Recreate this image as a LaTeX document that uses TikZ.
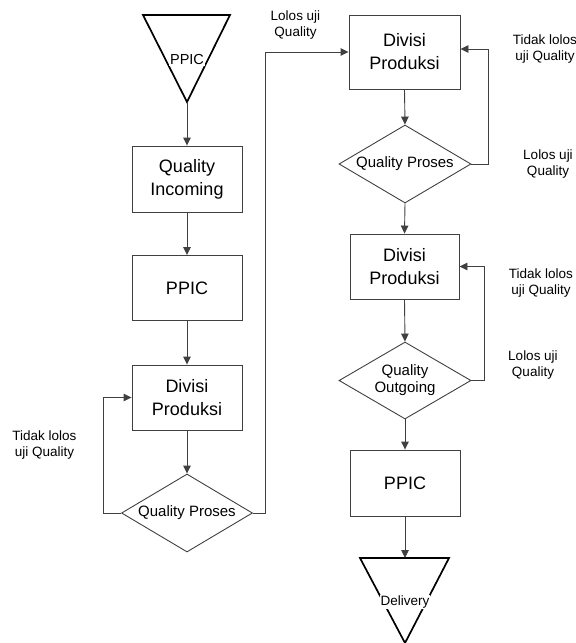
\documentclass[tikz,border=0pt]{standalone}
\usepackage{fontspec}
\setmainfont{Liberation Sans}
\usetikzlibrary{shapes.geometric,arrows.meta}
\begin{document}
\begin{tikzpicture}[x=1pt,y=-1pt,
  boxnode/.style={draw=black!75,line width=0.9pt,minimum width=110pt,minimum height=65pt,inner sep=0pt,align=center,font=\fontsize{18}{23}\selectfont},
  decision/.style={draw=black!75,line width=0.9pt,diamond,shape aspect=1.68,minimum width=131pt,minimum height=78pt,inner sep=0pt,align=center,font=\fontsize{15}{17}\selectfont},
  tri/.style={draw=black,line width=1.7pt,line join=miter},
  trilabel/.style={fill=white,inner sep=1pt,font=\fontsize{14.5}{16}\selectfont},
  note/.style={align=center,inner sep=0pt,font=\fontsize{13.5}{16}\selectfont},
  arr/.style={draw=black!75,line width=0.9pt,-{Triangle[length=8pt,width=7.5pt]}}]
\useasboundingbox (0,0) rectangle (576,643);
% top triangle
\coordinate (t1l) at (143,15);
\coordinate (t1r) at (230,15);
\coordinate (t1a) at (187,102);
\draw[tri] (t1l) -- (t1r) -- (t1a) -- cycle;
\node[trilabel] (t1txt) at (187,60) {PPIC};
% left column
\node[boxnode,minimum height=66pt] (qin) at (187,179) {Quality\\Incoming};
\node[boxnode] (ppic1) at (187,288) {PPIC};
\node[boxnode] (div1) at (187,397.5) {Divisi\\Produksi};
\node[decision] (dia1) at (187,513) {Quality Proses};
% right column
\node[boxnode,minimum width=111pt,minimum height=74pt] (div2) at (404.5,52) {Divisi\\Produksi};
\node[decision,minimum width=132pt] (dia2) at (405,164) {Quality Proses};
\node[boxnode,minimum width=109pt] (div3) at (404.5,266.5) {Divisi\\Produksi};
\node[decision,minimum width=132pt,minimum height=77pt] (dia3) at (405,380.5) {Quality\\Outgoing};
\node[boxnode,minimum height=66pt] (ppic2) at (405,483) {PPIC};
% bottom triangle
\coordinate (t2l) at (360,558);
\coordinate (t2top) at (405,558);
\coordinate (t2r) at (449,558);
\coordinate (t2a) at (405,643);
\draw[tri] (t2l) -- (t2r) -- (t2a) -- cycle;
\node[trilabel,font=\fontsize{13.5}{16}\selectfont] (t2txt) at (405,602) {Delivery};
% connectors
\draw[arr] (t1a) -- (qin.north);
\draw[arr] (qin.south) -- (ppic1.north);
\draw[arr] (ppic1.south) -- (div1.north);
\draw[arr] (div1.south) -- (dia1.north);
\draw[arr] (dia1.west) -| ([xshift=-28pt]div1.west) -- (div1.west);
\draw[arr] (dia1.east) -| ([xshift=-83pt]div2.west) -- (div2.west);
\draw[arr] (div2.south) -- (dia2.north);
\draw[arr] (dia2.east) -| ([xshift=28pt,yshift=3pt]div2.east) -- ([yshift=3pt]div2.east);
\draw[arr] (dia2.south) -- (div3.north);
\draw[arr] (div3.south) -- (dia3.north);
\draw[arr] (dia3.east) -| ([xshift=25pt]div3.east) -- (div3.east);
\draw[arr] (dia3.south) -- (ppic2.north);
\draw[arr] (ppic2.south) -- (t2top);
% notes
\node[note] (n1) at (44.5,445) {Tidak lolos\\uji Quality};
\node[note] (n2) at (295.5,25.5) {Lolos uji\\Quality};
\node[note] (n3) at (545,49) {Tidak lolos\\uji Quality};
\node[note] (n4) at (548,164) {Lolos uji\\Quality};
\node[note] (n5) at (541,283) {Tidak lolos\\uji Quality};
\node[note] (n6) at (533,365) {Lolos uji\\Quality};
\end{tikzpicture}
\end{document}
